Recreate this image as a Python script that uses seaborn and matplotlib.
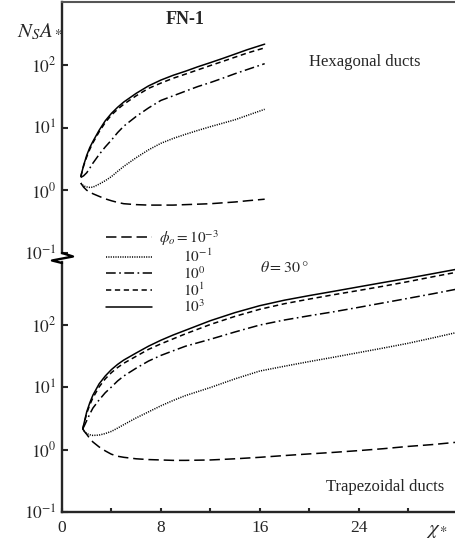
import numpy as np
import matplotlib
matplotlib.use("Agg")
import matplotlib.pyplot as plt
from matplotlib.lines import Line2D
import seaborn as sns

# Hexagonal ducts (top panel)
x_hex = [1.52, 1.75, 2.0, 2.25, 2.5, 3.0, 3.5, 4.0, 4.5, 5.0, 6.0, 7.0, 8.0, 9.0, 10.0,
         11.0, 12.0, 13.0, 14.0, 15.0, 16.4]
hex_phi_1e3 = [1.65, 2.5, 3.6, 4.8, 6.0, 9.0, 12.8, 16.8, 21, 25.5, 35, 46, 57, 68, 79,
               93, 108, 126, 148, 174, 213]
hex_phi_1e1 = [1.65, 2.45, 3.4, 4.5, 5.7, 8.5, 12, 15.8, 19.5, 23.5, 32, 42, 51, 61, 71,
               83, 97, 113, 132, 154, 186]
hex_phi_1e0 = [1.6, 1.7, 1.9, 2.25, 2.7, 3.7, 4.9, 6.3, 8.3, 10.5, 15, 20.5, 27, 32, 38,
               45, 52, 61, 72, 84, 104]
hex_phi_1e_1 = [1.3, 1.17, 1.13, 1.11, 1.12, 1.25, 1.42, 1.65, 2.0, 2.4, 3.3, 4.4, 5.6, 6.7, 7.8,
                9.0, 10.3, 11.7, 13.3, 15.6, 19.5]
hex_phi_1e_3 = [1.3, 1.12, 1.0, 0.94, 0.88, 0.8, 0.73, 0.68, 0.64, 0.61, 0.59, 0.58, 0.58, 0.58, 0.59,
                0.6, 0.61, 0.63, 0.65, 0.68, 0.72]

# Trapezoidal ducts (bottom panel)
x_trap = [1.68, 1.85, 2.0, 2.25, 2.5, 3.0, 3.5, 4.0, 4.5, 5.0, 6.0, 7.0, 8.0, 9.0, 10.0,
          12.0, 14.0, 16.0, 18.0, 20.0, 22.0, 24.0, 26.0, 28.0, 30.0, 32.0]
trap_phi_1e3 = [2.14, 3.0, 4.0, 5.6, 7.4, 11.2, 15, 19, 23, 27, 35, 45, 56, 68, 81,
                115, 155, 200, 245, 290, 340, 400, 470, 550, 650, 770]
trap_phi_1e1 = [2.14, 2.9, 3.8, 5.2, 6.7, 10, 13.5, 17, 20.5, 24, 31, 40, 49, 59, 71,
                100, 135, 175, 215, 255, 300, 350, 410, 485, 580, 690]
trap_phi_1e0 = [2.14, 2.5, 2.9, 3.7, 4.6, 6.2, 8.1, 10, 12.5, 15, 20, 26, 32, 38, 45,
                58, 76, 98, 118, 138, 160, 188, 222, 262, 310, 370]
trap_phi_1e_1 = [2.14, 1.9, 1.8, 1.72, 1.68, 1.7, 1.8, 1.95, 2.2, 2.5, 3.2, 4.0, 5.0, 6.1, 7.3,
                 9.8, 13.5, 18, 21.5, 25.5, 30, 35.5, 42, 50, 61, 75]
trap_phi_1e_3 = [2.14, 1.9, 1.75, 1.5, 1.32, 1.1, 0.95, 0.84, 0.78, 0.75, 0.71, 0.69, 0.68, 0.67, 0.67,
                 0.68, 0.71, 0.75, 0.8, 0.85, 0.9, 0.96, 1.03, 1.12, 1.2, 1.31]

phi_labels = [r"$\phi_o = 10^{-3}$", r"$\hspace{2.2}10^{-1}$", r"$\hspace{2.2}10^{0}$",
              r"$\hspace{2.2}10^{1}$", r"$\hspace{2.2}10^{3}$"]
styles = [(0, (7.5, 3.5)), (0, (0.8, 0.9)), (0, (7, 2.5, 1.2, 2.5)), (0, (3.8, 2.6)), "-"]

sns.set_style("ticks")
plt.rcParams["font.family"] = ["Liberation Serif", "DejaVu Serif"]
plt.rcParams["mathtext.fontset"] = "stix"
plt.rcParams["lines.scale_dashes"] = False

W, H = 455, 544
fig = plt.figure(figsize=(W / 100, H / 100), dpi=100)
left = 62 / W
ax_top = fig.add_axes([left, 1 - 253 / H, 1 - left, 251 / H])
ax_bot = fig.add_axes([left, 1 - 512 / H, 1 - left, 250 / H])

hex_series = [hex_phi_1e_3, hex_phi_1e_1, hex_phi_1e0, hex_phi_1e1, hex_phi_1e3]
trap_series = [trap_phi_1e_3, trap_phi_1e_1, trap_phi_1e0, trap_phi_1e1, trap_phi_1e3]

for ys, ls in zip(hex_series, styles):
    sns.lineplot(x=x_hex, y=ys, ax=ax_top, color="k", lw=1.1, linestyle=ls)
for ys, ls in zip(trap_series, styles):
    sns.lineplot(x=x_trap, y=ys, ax=ax_bot, color="k", lw=1.1, linestyle=ls)

yticks = [0.1, 1, 10, 100]
ylabels = ["$10^{-1}$", "$10^{0}$", "$10^{1}$", "$10^{2}$"]
for ax in (ax_top, ax_bot):
    ax.set_yscale("log")
    ax.set_ylim(0.1, 1000)
    ax.set_xlim(0, 31.8)
    ax.set_yticks(yticks)
    ax.set_yticklabels(ylabels)
    ax.minorticks_off()
    ax.tick_params(axis="y", direction="in", length=4, width=1.5, pad=4, labelsize=12.5)
    ax.spines["left"].set_linewidth(1.7)
    ax.spines["right"].set_visible(False)
    ax.set_facecolor("none")

ax_top.spines["bottom"].set_visible(False)
ax_top.spines["top"].set_color("#555555")
ax_top.spines["top"].set_linewidth(1.5)
ax_top.set_xticks([])

ax_bot.spines["top"].set_visible(False)
ax_bot.spines["bottom"].set_linewidth(1.7)
ax_bot.set_xticks(range(0, 32, 4))
ax_bot.set_xticklabels(["0", "", "8", "", "16", "", "24", ""])
ax_bot.tick_params(axis="x", direction="in", length=3, width=1.5, pad=6, labelsize=12.5)

# axis break on the left spine
zx = [62, 73, 52, 62]
zy = [253, 256.5, 260.5, 263]
fig.add_artist(Line2D([v / W for v in zx], [1 - v / H for v in zy], color="k", lw=1.7))

fig.text(40 / W, 1 - 32 / H, r"$N_S A_*$", fontsize=15, ha="center", va="center")
fig.text(437 / W, 1 - 531 / H, r"$\chi_*$", fontsize=15, ha="center", va="center")
fig.text(185 / W, 1 - 20 / H, "FN-1", fontsize=13, fontweight="bold", ha="center", va="center")
fig.text(365 / W, 1 - 62 / H, "Hexagonal ducts", fontsize=12, ha="center", va="center")
fig.text(385 / W, 1 - 487 / H, "Trapezoidal ducts", fontsize=12, ha="center", va="center")
fig.text(284 / W, 1 - 268 / H, r"$\theta = 30\,°$", fontsize=11.5, ha="center", va="center")

handles = [Line2D([], [], color="k", lw=1.1, linestyle=ls) for ls in styles]
fig.legend(handles, phi_labels, loc="upper left", bbox_to_anchor=(106 / W, 1 - 228 / H),
           frameon=False, fontsize=11, handlelength=3.0, handletextpad=0.5,
           labelspacing=0.0, borderpad=0, borderaxespad=0)

fig.savefig("out.png", dpi=100)
